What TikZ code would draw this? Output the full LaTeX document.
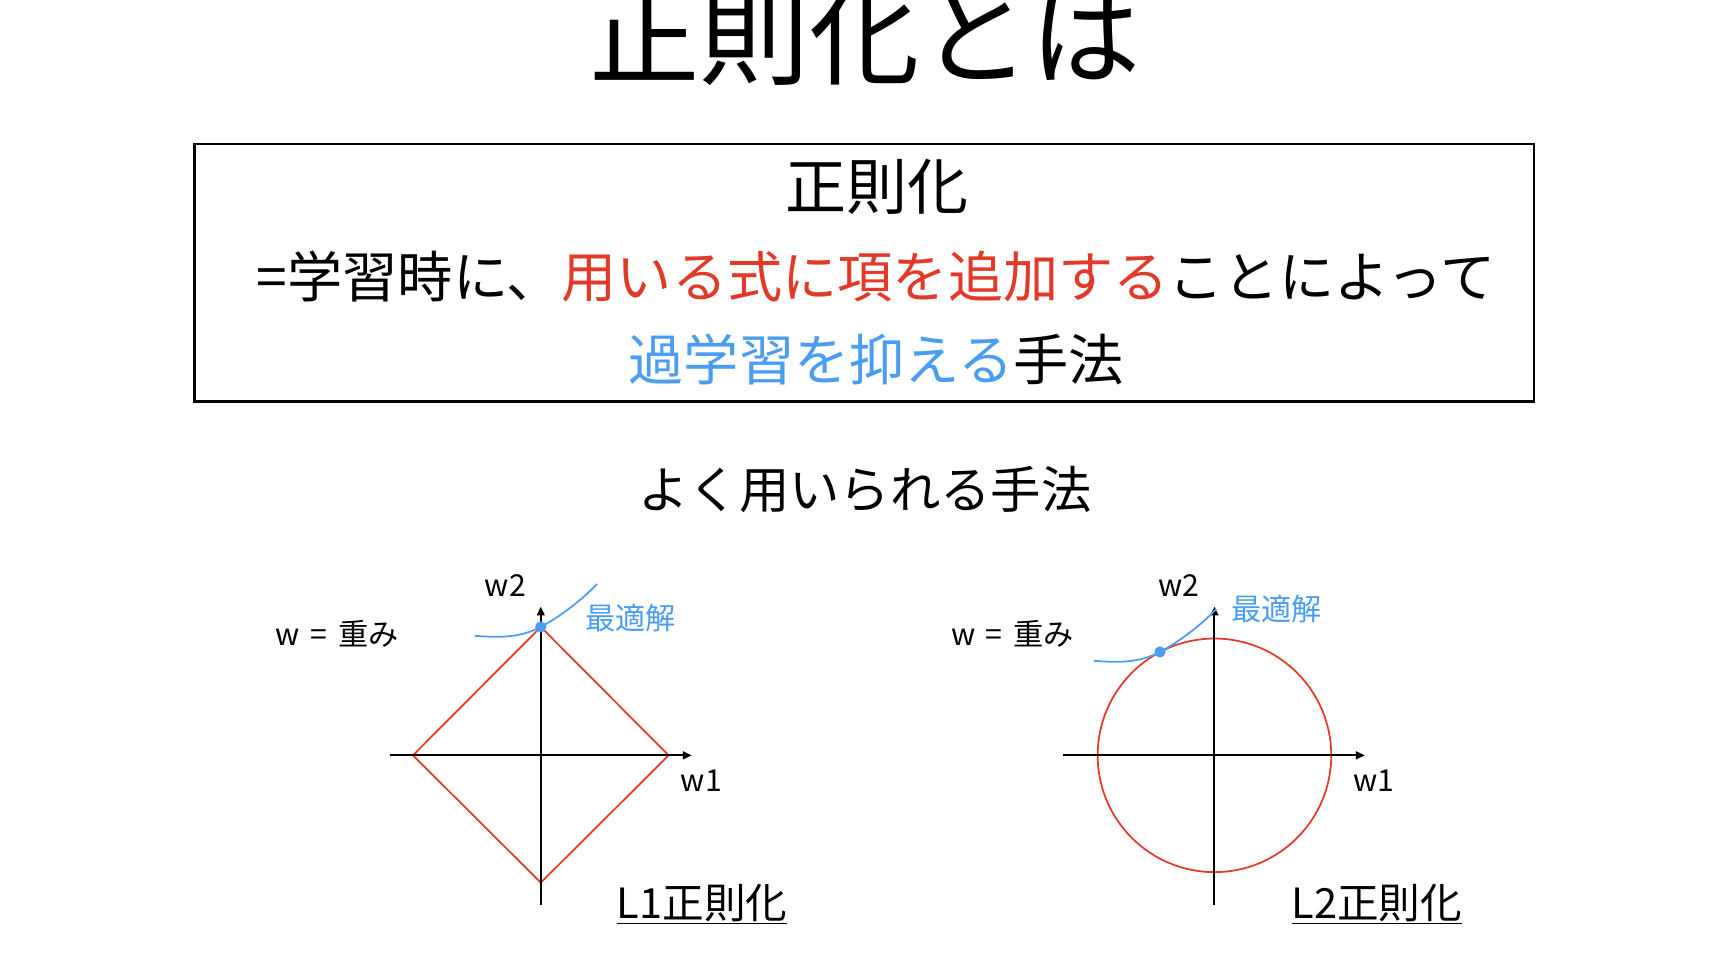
\documentclass[tikz,border=0pt]{standalone}
\usepackage{fontspec}
\newfontfamily\jp{Noto Sans CJK JP}
\usetikzlibrary{arrows.meta}
\definecolor{kred}{RGB}{226,58,40}
\definecolor{kblue}{RGB}{74,157,240}
\newcommand\myfs[1]{\fontsize{#1pt}{#1pt}\selectfont}
\newcommand\wdef{w\hspace{5.3pt}=\hspace{5.7pt}重み}
\begin{document}
\begin{tikzpicture}[x=0.02cm,y=-0.02cm,
  every node/.style={inner sep=0pt,outer sep=0pt},
  titletxt/.style={font=\jp\myfs{57},anchor=base},
  headtxt/.style={font=\jp\myfs{31.5},anchor=base},
  boxtxt/.style={font=\jp\myfs{28.5},anchor=base},
  subtxt/.style={font=\jp\myfs{26},anchor=base},
  lab/.style={font=\jp\myfs{15.6},anchor=base},
  labw/.style={font=\jp\myfs{15.6},anchor=base west},
  captxt/.style={font=\jp\myfs{21.5},anchor=base west},
  axisline/.style={line width=1pt,-{Triangle[length=4.6pt,width=4pt]}},
  redline/.style={draw=kred,line width=0.9pt},
  bluecurve/.style={draw=kblue,line width=0.9pt},
  bluedot/.style={fill=kblue},
  uline/.style={line width=0.85pt}]
\useasboundingbox (0,0) rectangle (1568,882);
% title
\node[titletxt] (title) at (785,69) {正則化とは};
% definition box
\draw[line width=1.3pt] (176.5,130.5) rectangle (1392,364.5);
\node[headtxt] (t1) at (796,190) {正則化};
\node[boxtxt] (t2) at (795,269.5) {=学習時に、\textcolor{kred}{用いる式に項を追加する}ことによって};
\node[boxtxt] (t3) at (795,345.5) {\textcolor{kblue}{過学習を抑える}手法};
\node[subtxt] (sub) at (785,461) {よく用いられる手法};
% ---------- L1 ----------
\begin{scope}[shift={(490.7,685.4)}]
  \coordinate (o1) at (0,0);
  \coordinate (d1l) at (-116,0);
  \coordinate (d1t) at (0,-116.5);
  \coordinate (d1r) at (116,0);
  \coordinate (d1b) at (0,115.5);
  \draw[redline] (d1l) -- (d1t) -- (d1r) -- (d1b) -- cycle;
  \coordinate (a1l) at (-136.5,0);
  \coordinate (a1r) at (137,0);
  \coordinate (a1b) at (0,135.8);
  \coordinate (a1t) at (0,-135);
  \draw[axisline] (a1l) -- (a1r);
  \draw[axisline] (a1b) -- (a1t);
  \begin{scope}[shift={(d1t)}]
    \draw[bluecurve] (-60,8) .. controls (-40,9.5) and (-20,10.5) .. (0,0)
      .. controls (17,-9) and (38,-25) .. (51,-39);
  \end{scope}
  \fill[bluedot] (d1t) circle[radius=2.9pt];
  \node[lab] (w21) at (-32.2,-144.4) {w2};
  \node[labw,text=kblue] (opt1) at (40.3,-113.9) {最適解};
  \node[labw] (wd1) at (-240.5,-99.4) {\wdef};
  \node[lab] (w11) at (145.8,32.6) {w1};
  \node[captxt] (cap1) at (69,147.6) {L1正則化};
  \draw[uline] ([yshift=-2.9pt]cap1.base west) -- ([yshift=-2.9pt]cap1.base east);
\end{scope}
% ---------- L2 ----------
\begin{scope}[shift={(1102,685.4)}]
  \coordinate (o2) at (0,0);
  \draw[redline] (o2) circle[radius=2.12cm];
  \coordinate (a2l) at (-137,0);
  \coordinate (a2r) at (136.5,0);
  \coordinate (a2b) at (0,135.8);
  \coordinate (a2t) at (0,-135);
  \draw[axisline] (a2l) -- (a2r);
  \draw[axisline] (a2b) -- (a2t);
  \coordinate (p2) at (-49.4,-93.8);
  \begin{scope}[shift={(p2)}]
    \draw[bluecurve] (-60,8) .. controls (-40,9.5) and (-20,10.5) .. (0,0)
      .. controls (17,-9) and (38,-25) .. (51,-39);
  \end{scope}
  \fill[bluedot] (p2) circle[radius=2.9pt];
  \node[lab] (w22) at (-32.5,-144.4) {w2};
  \node[labw,text=kblue] (opt2) at (15.5,-122.4) {最適解};
  \node[labw] (wd2) at (-239,-99.4) {\wdef};
  \node[lab] (w12) at (145,32.6) {w1};
  \node[captxt] (cap2) at (70,147.6) {L2正則化};
  \draw[uline] ([yshift=-2.9pt]cap2.base west) -- ([yshift=-2.9pt]cap2.base east);
\end{scope}
\end{tikzpicture}
\end{document}
